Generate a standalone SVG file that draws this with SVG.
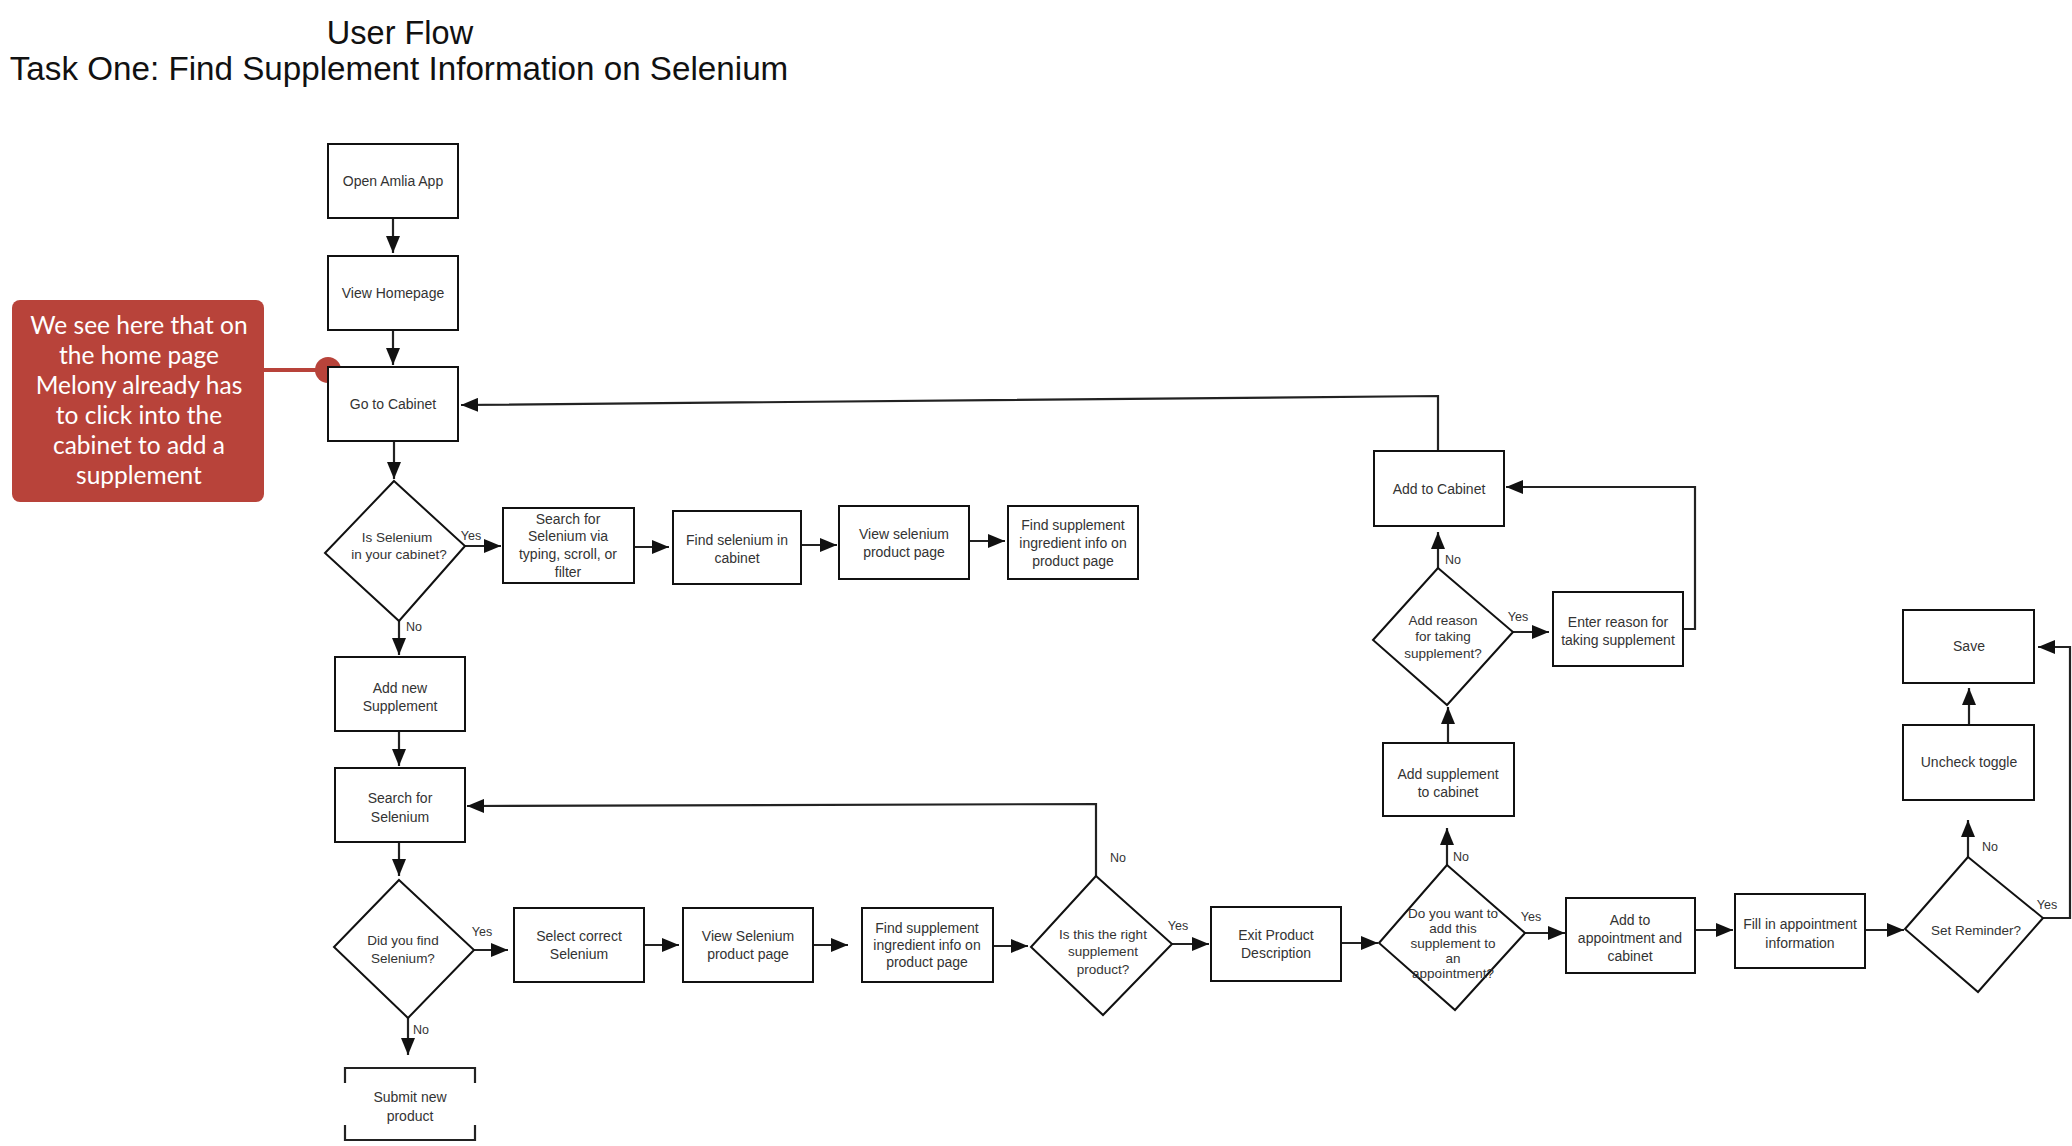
<svg xmlns="http://www.w3.org/2000/svg" width="2072" height="1146" viewBox="0 0 2072 1146">
<style>
.bx{fill:#fff;stroke:#111;stroke-width:2}
.t{font-family:"Liberation Sans",Arial,sans-serif;font-size:14px;fill:#333;text-anchor:middle}
.td{font-family:"Liberation Sans",Arial,sans-serif;font-size:13.5px;fill:#333;text-anchor:middle}
.lb{font-family:"Liberation Sans",Arial,sans-serif;font-size:12.5px;fill:#333;text-anchor:middle}
.ti{font-family:"Liberation Sans",Arial,sans-serif;font-size:32.5px;fill:#111;text-anchor:middle}
.cn{fill:none;stroke:#222;stroke-width:2.2}
.cw{font-family:Lato,"Open Sans",sans-serif;font-size:24.5px;fill:#fff;text-anchor:middle}
</style>
<defs>
<marker id="ah" markerUnits="userSpaceOnUse" markerWidth="18" markerHeight="14" refX="17" refY="7" orient="auto">
<path d="M0,0 L17,7 L0,14 z" fill="#111"/>
</marker>
</defs>
<rect width="2072" height="1146" fill="#fff"/>
<g id="title">
<text class="ti" x="400" y="44">User Flow</text>
<text class="ti" x="399" y="80" style="font-size:33.2px">Task One: Find Supplement Information on Selenium</text>
</g>
<g id="connectors">
<path class="cn" marker-end="url(#ah)" d="M393,218 V253"/>
<path class="cn" marker-end="url(#ah)" d="M393,330 V365"/>
<path class="cn" marker-end="url(#ah)" d="M394,441 V479"/>
<path class="cn" marker-end="url(#ah)" d="M465,546 H501"/>
<path class="cn" marker-end="url(#ah)" d="M634,547 H669"/>
<path class="cn" marker-end="url(#ah)" d="M801,545 H837"/>
<path class="cn" marker-end="url(#ah)" d="M969,541 H1005"/>
<path class="cn" marker-end="url(#ah)" d="M399,621 V655"/>
<path class="cn" marker-end="url(#ah)" d="M399,731 V766"/>
<path class="cn" marker-end="url(#ah)" d="M399,842 V876"/>
<path class="cn" marker-end="url(#ah)" d="M408,1018 V1055"/>
<path class="cn" marker-end="url(#ah)" d="M474,950 H508"/>
<path class="cn" marker-end="url(#ah)" d="M644,945 H679"/>
<path class="cn" marker-end="url(#ah)" d="M813,945 H848"/>
<path class="cn" marker-end="url(#ah)" d="M993,946 H1028"/>
<path class="cn" marker-end="url(#ah)" d="M1096,876 V804 L467,806"/>
<path class="cn" marker-end="url(#ah)" d="M1172,944 H1209"/>
<path class="cn" marker-end="url(#ah)" d="M1341,943 H1378"/>
<path class="cn" marker-end="url(#ah)" d="M1525,933 H1565"/>
<path class="cn" marker-end="url(#ah)" d="M1695,930 H1733"/>
<path class="cn" marker-end="url(#ah)" d="M1865,930 H1904"/>
<path class="cn" marker-end="url(#ah)" d="M1968,857 V820"/>
<path class="cn" marker-end="url(#ah)" d="M1969,725 V688"/>
<path class="cn" marker-end="url(#ah)" d="M2043,918 H2070 V647 H2038"/>
<path class="cn" marker-end="url(#ah)" d="M1447,865 V828"/>
<path class="cn" marker-end="url(#ah)" d="M1448,743 V707"/>
<path class="cn" marker-end="url(#ah)" d="M1438,568 V532"/>
<path class="cn" marker-end="url(#ah)" d="M1513,632 H1549"/>
<path class="cn" marker-end="url(#ah)" d="M1683,629 H1695 V487 H1506"/>
<path class="cn" marker-end="url(#ah)" d="M1438,451 V396 L461,405"/>
</g>
<g id="labels">
<text class="lb" x="471" y="540">Yes</text>
<text class="lb" x="414" y="631">No</text>
<text class="lb" x="482" y="936">Yes</text>
<text class="lb" x="421" y="1034">No</text>
<text class="lb" x="1118" y="862">No</text>
<text class="lb" x="1178" y="930">Yes</text>
<text class="lb" x="1461" y="861">No</text>
<text class="lb" x="1531" y="921">Yes</text>
<text class="lb" x="1990" y="851">No</text>
<text class="lb" x="2047" y="909">Yes</text>
<text class="lb" x="1453" y="564">No</text>
<text class="lb" x="1518" y="621">Yes</text>
</g>
<g id="callout">
<rect x="12" y="300" width="252" height="202" rx="8" fill="#B8433A"/>
<line x1="262" y1="370" x2="328" y2="370" stroke="#B8433A" stroke-width="4"/>
<circle cx="328" cy="370" r="13" fill="#B8433A"/>
<text class="cw" x="139" y="334">We see here that on</text>
<text class="cw" x="139" y="364">the home page</text>
<text class="cw" x="139" y="394">Melony already has</text>
<text class="cw" x="139" y="424">to click into the</text>
<text class="cw" x="139" y="454">cabinet to add a</text>
<text class="cw" x="139" y="484">supplement</text>
</g>
<g id="open-app"><rect class="bx" x="328" y="144" width="130" height="74"/><text class="t" x="393" y="186">Open Amlia App</text></g>
<g id="view-homepage"><rect class="bx" x="328" y="256" width="130" height="74"/><text class="t" x="393" y="298">View Homepage</text></g>
<g id="go-to-cabinet"><rect class="bx" x="328" y="367" width="130" height="74"/><text class="t" x="393" y="409">Go to Cabinet</text></g>
<g id="is-selenium-in-cabinet"><polygon class="bx" points="394,481 465,546 399,621 325,553"/><text class="td" x="397" y="542">Is Selenium</text><text class="td" x="399" y="559">in your cabinet?</text></g>
<g id="search-via"><rect class="bx" x="503" y="508" width="131" height="75"/><text class="t" x="568" y="524">Search for</text><text class="t" x="568" y="541">Selenium via</text><text class="t" x="568" y="559">typing, scroll, or</text><text class="t" x="568" y="577">filter</text></g>
<g id="find-in-cabinet"><rect class="bx" x="673" y="511" width="128" height="73"/><text class="t" x="737" y="545">Find selenium in</text><text class="t" x="737" y="563">cabinet</text></g>
<g id="view-product-1"><rect class="bx" x="839" y="506" width="130" height="73"/><text class="t" x="904" y="539">View selenium</text><text class="t" x="904" y="557">product page</text></g>
<g id="find-info-1"><rect class="bx" x="1008" y="506" width="130" height="73"/><text class="t" x="1073" y="530">Find supplement</text><text class="t" x="1073" y="548">ingredient info on</text><text class="t" x="1073" y="566">product page</text></g>
<g id="add-new-supplement"><rect class="bx" x="335" y="657" width="130" height="74"/><text class="t" x="400" y="693">Add new</text><text class="t" x="400" y="711">Supplement</text></g>
<g id="search-selenium"><rect class="bx" x="335" y="768" width="130" height="74"/><text class="t" x="400" y="803">Search for</text><text class="t" x="400" y="822">Selenium</text></g>
<g id="did-you-find"><polygon class="bx" points="399,880 474,950 408,1018 334,947"/><text class="td" x="403" y="945">Did you find</text><text class="td" x="403" y="963">Selenium?</text></g>
<g id="submit-new-product"><path class="cn" stroke="#111" d="M345,1083 V1068 H475 V1083 M345,1125 V1140 H475 V1125"/><text class="t" x="410" y="1102">Submit new</text><text class="t" x="410" y="1121">product</text></g>
<g id="select-correct"><rect class="bx" x="514" y="908" width="130" height="74"/><text class="t" x="579" y="941">Select correct</text><text class="t" x="579" y="959">Selenium</text></g>
<g id="view-product-2"><rect class="bx" x="683" y="908" width="130" height="74"/><text class="t" x="748" y="941">View Selenium</text><text class="t" x="748" y="959">product page</text></g>
<g id="find-info-2"><rect class="bx" x="862" y="908" width="131" height="74"/><text class="t" x="927" y="933">Find supplement</text><text class="t" x="927" y="950">ingredient info on</text><text class="t" x="927" y="967">product page</text></g>
<g id="right-product"><polygon class="bx" points="1096,876 1172,944 1103,1015 1031,947"/><text class="td" x="1103" y="939">Is this the right</text><text class="td" x="1103" y="956">supplement</text><text class="td" x="1103" y="974">product?</text></g>
<g id="exit-description"><rect class="bx" x="1211" y="907" width="130" height="74"/><text class="t" x="1276" y="940">Exit Product</text><text class="t" x="1276" y="958">Description</text></g>
<g id="add-to-appointment-q"><polygon class="bx" points="1447,865 1525,933 1455,1010 1379,943"/><text class="td" x="1453" y="918">Do you want to</text><text class="td" x="1453" y="933">add this</text><text class="td" x="1453" y="948">supplement to</text><text class="td" x="1453" y="963">an</text><text class="td" x="1453" y="978">appointment?</text></g>
<g id="add-appointment-cabinet"><rect class="bx" x="1566" y="898" width="129" height="75"/><text class="t" x="1630" y="925">Add to</text><text class="t" x="1630" y="943">appointment and</text><text class="t" x="1630" y="961">cabinet</text></g>
<g id="fill-appointment"><rect class="bx" x="1735" y="894" width="130" height="74"/><text class="t" x="1800" y="929">Fill in appointment</text><text class="t" x="1800" y="948">information</text></g>
<g id="set-reminder"><polygon class="bx" points="1968,857 2043,918 1978,992 1905,929"/><text class="td" x="1976" y="935">Set Reminder?</text></g>
<g id="uncheck-toggle"><rect class="bx" x="1903" y="725" width="131" height="75"/><text class="t" x="1969" y="767">Uncheck toggle</text></g>
<g id="save"><rect class="bx" x="1903" y="610" width="131" height="73"/><text class="t" x="1969" y="651">Save</text></g>
<g id="add-supplement-cabinet"><rect class="bx" x="1383" y="743" width="131" height="73"/><text class="t" x="1448" y="779">Add supplement</text><text class="t" x="1448" y="797">to cabinet</text></g>
<g id="add-reason-q"><polygon class="bx" points="1438,568 1513,632 1447,705 1373,640"/><text class="td" x="1443" y="625">Add reason</text><text class="td" x="1443" y="641">for taking</text><text class="td" x="1443" y="658">supplement?</text></g>
<g id="add-to-cabinet"><rect class="bx" x="1374" y="451" width="130" height="75"/><text class="t" x="1439" y="494">Add to Cabinet</text></g>
<g id="enter-reason"><rect class="bx" x="1553" y="592" width="130" height="74"/><text class="t" x="1618" y="627">Enter reason for</text><text class="t" x="1618" y="645">taking supplement</text></g>
</svg>
